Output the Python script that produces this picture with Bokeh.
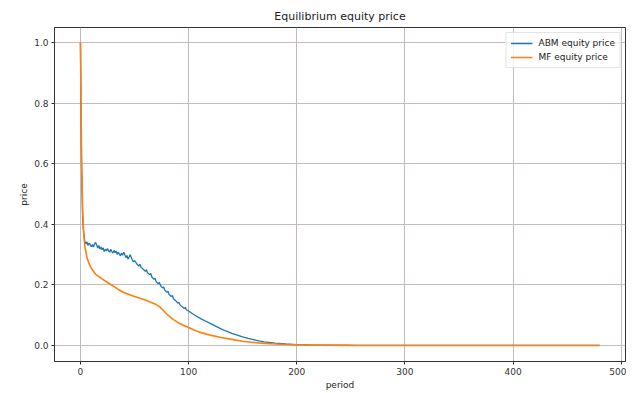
from bokeh.plotting import figure
from bokeh.models import ColumnDataSource, FixedTicker, Range1d, Legend, LegendItem, CustomJSTickFormatter
from bokeh.embed import file_html
from bokeh.resources import INLINE

title_text = "Equilibrium equity price"
x_label = "period"
y_label = "price"
series_names = ["ABM equity price", "MF equity price"]
x_ticks = [0, 100, 200, 300, 400, 500]
y_ticks = [0.0, 0.2, 0.4, 0.6, 0.8, 1.0]

abm_period = [0, 1, 2, 3, 4, 5, 6, 7, 8, 9, 10, 11, 12, 13, 14, 15, 16, 17, 18, 19,
              20, 21, 22, 23, 24, 25, 26, 27, 28, 29, 30, 31, 32, 33, 34, 35, 36, 37, 38, 39,
              40, 41, 42, 43, 44, 45, 46, 47, 48, 49, 50, 52, 54, 55, 56, 58, 60, 61, 62, 64,
              65, 66, 68, 69, 70, 72, 73, 74, 76, 77, 78, 80, 81, 82, 84, 85, 86, 88, 90, 91,
              92, 94, 96, 97, 98, 100, 104, 108, 112, 116, 120, 125, 130, 135, 140, 145, 150,
              155, 160, 165, 170, 180, 190, 200, 210, 230, 260, 480]
abm_price = [1.0, 0.6, 0.42, 0.37, 0.345, 0.335, 0.342, 0.33, 0.338, 0.332, 0.326, 0.333, 0.325,
             0.335, 0.34, 0.332, 0.322, 0.33, 0.318, 0.325, 0.316, 0.322, 0.31, 0.318, 0.312,
             0.32, 0.312, 0.308, 0.318, 0.31, 0.305, 0.314, 0.306, 0.312, 0.3, 0.308, 0.302,
             0.296, 0.305, 0.298, 0.308, 0.3, 0.29, 0.297, 0.285, 0.292, 0.3, 0.29, 0.282,
             0.276, 0.28, 0.27, 0.262, 0.268, 0.258, 0.252, 0.245, 0.25, 0.24, 0.234, 0.238,
             0.226, 0.218, 0.222, 0.21, 0.204, 0.208, 0.198, 0.19, 0.193, 0.182, 0.176, 0.179,
             0.168, 0.162, 0.165, 0.154, 0.148, 0.14, 0.143, 0.134, 0.128, 0.122, 0.125, 0.117,
             0.114, 0.104, 0.095, 0.087, 0.08, 0.073, 0.064, 0.055, 0.047, 0.04, 0.034, 0.028,
             0.023, 0.019, 0.015, 0.012, 0.008, 0.005, 0.003, 0.002, 0.001, 0.0, 0.0]

mf_period = [0, 1, 2, 3, 4, 5, 6, 8, 10, 12, 14, 16, 18, 20, 25, 30, 35, 40, 45, 50, 55, 60,
             65, 70, 73, 76, 80, 85, 90, 95, 100, 105, 110, 115, 120, 130, 140, 150, 160, 170,
             180, 190, 200, 220, 250, 300, 400, 480]
mf_price = [1.0, 0.62, 0.45, 0.37, 0.33, 0.31, 0.29, 0.27, 0.255, 0.245, 0.235, 0.23, 0.225,
            0.22, 0.208, 0.197, 0.185, 0.175, 0.168, 0.162, 0.156, 0.15, 0.143, 0.135, 0.128,
            0.118, 0.103, 0.088, 0.076, 0.067, 0.059, 0.051, 0.044, 0.039, 0.034, 0.026, 0.02,
            0.014, 0.01, 0.007, 0.005, 0.003, 0.002, 0.001, 0.0003, 0.0, 0.0, 0.0]

FONT = "DejaVu Sans"
GRID = "#c4bcbc"

p = figure(width=626, height=392, output_backend="svg", toolbar_location=None,
           x_range=Range1d(-24, 504), y_range=Range1d(-0.053, 1.05),
           min_border_left=54, min_border_right=1, min_border_top=27, min_border_bottom=16)

p.title.text = title_text
p.title.align = "center"
p.title.text_font = FONT
p.title.text_font_size = "11px"
p.title.text_font_style = "normal"
p.title.text_color = "#222222"
p.title.offset = 0
p.title.standoff = 9

src_abm = ColumnDataSource(dict(x=abm_period, y=abm_price))
src_mf = ColumnDataSource(dict(x=mf_period, y=mf_price))
r1 = p.line("x", "y", source=src_abm, line_color="#1f77b4", line_width=1.3)
r2 = p.line("x", "y", source=src_mf, line_color="#ff7f0e", line_width=1.6)

legend = Legend(items=[LegendItem(label=series_names[0], renderers=[r1]),
                       LegendItem(label=series_names[1], renderers=[r2])],
                location="top_right")
legend.label_text_font = FONT
legend.label_text_font_size = "9px"
legend.label_text_color = "#222222"
legend.border_line_color = "#dddddd"
legend.border_line_alpha = 0.8
legend.background_fill_alpha = 0.8
legend.glyph_width = 22
legend.glyph_height = 12
legend.label_height = 12
legend.spacing = 2
legend.padding = 4
legend.margin = 5
legend.label_standoff = 6
p.add_layout(legend)

p.xaxis.ticker = FixedTicker(ticks=x_ticks)
p.yaxis.ticker = FixedTicker(ticks=y_ticks)
p.yaxis.formatter = CustomJSTickFormatter(code="return tick.toFixed(1);")

for ax in (p.xaxis, p.yaxis):
    ax.axis_line_color = "#333333"
    ax.major_tick_line_color = "#333333"
    ax.minor_tick_line_color = None
    ax.major_tick_in = 0
    ax.major_tick_out = 3
    ax.major_label_text_font = FONT
    ax.major_label_text_font_size = "9px"
    ax.major_label_text_color = "#333333"
    ax.axis_label_text_font = FONT
    ax.axis_label_text_font_size = "9px"
    ax.axis_label_text_font_style = "normal"
    ax.axis_label_text_color = "#222222"
    ax.major_label_standoff = 3
    ax.axis_label_standoff = 2

p.xaxis.axis_label = x_label
p.yaxis.axis_label = y_label

p.outline_line_color = "#333333"
p.outline_line_width = 1
p.xgrid.grid_line_color = GRID
p.ygrid.grid_line_color = GRID
p.xgrid.grid_line_width = 1
p.ygrid.grid_line_width = 1

open("out.html", "w").write(file_html(p, INLINE))
